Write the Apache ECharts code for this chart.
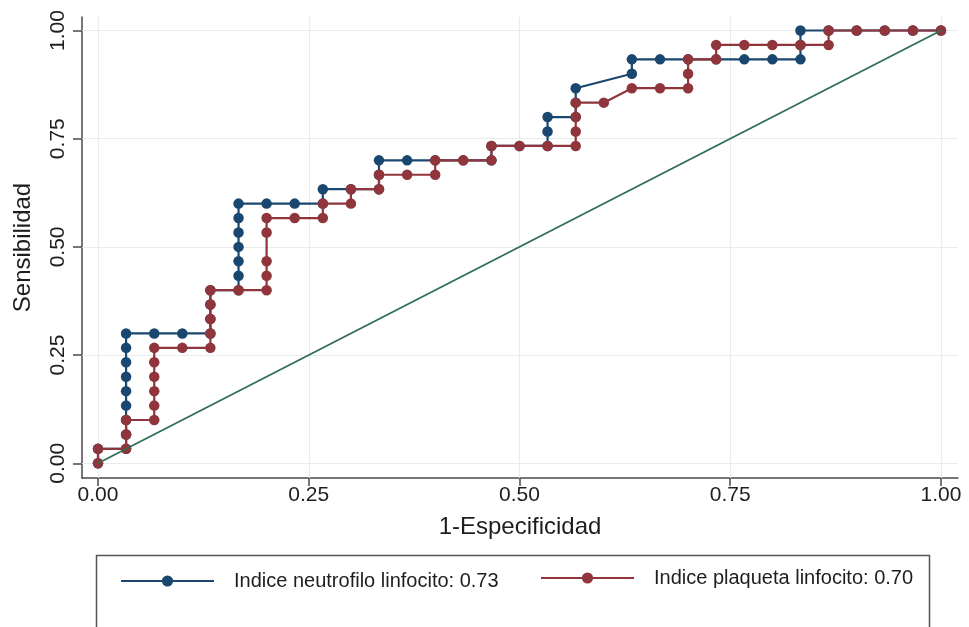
<!DOCTYPE html>
<html>
<head>
<meta charset="utf-8">
<title>Curvas ROC</title>
<script src="https://cdn.jsdelivr.net/npm/echarts@6/dist/echarts.min.js"></script>
<style>
  html, body { margin: 0; padding: 0; background: #ffffff; }
  #chart { width: 969px; height: 627px; }
</style>
</head>
<body>
<div id="chart"></div>
<script>
// Tick positions shared by both axes
const tickValues = [0, 0.25, 0.5, 0.75, 1];

// ROC curve: neutrophil-lymphocyte index (1-specificity, sensitivity)
const nlrFpr = [0, 0, 0.0333, 0.0333, 0.0333, 0.0333, 0.0333, 0.0333, 0.0333, 0.0333, 0.0333,
  0.0667, 0.1, 0.1333, 0.1333, 0.1333, 0.1333,
  0.1667, 0.1667, 0.1667, 0.1667, 0.1667, 0.1667, 0.1667,
  0.2, 0.2333, 0.2667, 0.2667, 0.3, 0.3333, 0.3333, 0.3333,
  0.3667, 0.4, 0.4333, 0.4667, 0.4667, 0.5, 0.5333, 0.5333, 0.5333,
  0.5667, 0.5667, 0.5667, 0.6333, 0.6333, 0.6667, 0.7, 0.7333, 0.7667, 0.8,
  0.8333, 0.8333, 0.8333, 0.8667, 0.9, 0.9333, 0.9667, 1];
const nlrTpr = [0, 0.0333, 0.0333, 0.0667, 0.1, 0.1333, 0.1667, 0.2, 0.2333, 0.2667, 0.3,
  0.3, 0.3, 0.3, 0.3333, 0.3667, 0.4,
  0.4, 0.4333, 0.4667, 0.5, 0.5333, 0.5667, 0.6,
  0.6, 0.6, 0.6, 0.6333, 0.6333, 0.6333, 0.6667, 0.7,
  0.7, 0.7, 0.7, 0.7, 0.7333, 0.7333, 0.7333, 0.7667, 0.8,
  0.8, 0.8333, 0.8667, 0.9, 0.9333, 0.9333, 0.9333, 0.9333, 0.9333, 0.9333,
  0.9333, 0.9667, 1, 1, 1, 1, 1, 1];

// ROC curve: platelet-lymphocyte index
const plrFpr = [0, 0, 0.0333, 0.0333, 0.0333,
  0.0667, 0.0667, 0.0667, 0.0667, 0.0667, 0.0667,
  0.1, 0.1333, 0.1333, 0.1333, 0.1333, 0.1333, 0.1667,
  0.2, 0.2, 0.2, 0.2, 0.2, 0.2333, 0.2667, 0.2667, 0.3, 0.3,
  0.3333, 0.3333, 0.3667, 0.4, 0.4, 0.4333, 0.4667, 0.4667, 0.5, 0.5333,
  0.5667, 0.5667, 0.5667, 0.5667, 0.6, 0.6333, 0.6667, 0.7, 0.7, 0.7,
  0.7333, 0.7333, 0.7667, 0.8, 0.8333, 0.8667, 0.8667, 0.9, 0.9333, 0.9667, 1];
const plrTpr = [0, 0.0333, 0.0333, 0.0667, 0.1,
  0.1, 0.1333, 0.1667, 0.2, 0.2333, 0.2667,
  0.2667, 0.2667, 0.3, 0.3333, 0.3667, 0.4, 0.4,
  0.4, 0.4333, 0.4667, 0.5333, 0.5667, 0.5667, 0.5667, 0.6, 0.6, 0.6333,
  0.6333, 0.6667, 0.6667, 0.6667, 0.7, 0.7, 0.7, 0.7333, 0.7333, 0.7333,
  0.7333, 0.7667, 0.8, 0.8333, 0.8333, 0.8667, 0.8667, 0.8667, 0.9, 0.9333,
  0.9333, 0.9667, 0.9667, 0.9667, 0.9667, 0.9667, 1, 1, 1, 1, 1];

// Chance (reference) diagonal
const refX = [0, 1];
const refY = [0, 1];

const seriesNames = ['Indice neutrofilo linfocito: 0.73', 'Indice plaqueta linfocito: 0.70'];
const colors = { nlr: '#1a476f', plr: '#90353b', ref: '#2f6e55', grid: '#e9ecec', axis: '#4a4a4a', text: '#1e1e1e' };

const pairs = (xs, ys) => xs.map((x, i) => [x, ys[i]]);
const fmt = v => v.toFixed(2);
const fontFamily = '"Liberation Sans", Arial, Helvetica, sans-serif';

const chart = echarts.init(document.getElementById('chart'), null, { renderer: 'canvas' });

const gridLines = [
  ...tickValues.map(v => ({ xAxis: v })),
  ...tickValues.map(v => ({ yAxis: v }))
];

const legendBase = {
  orient: 'horizontal',
  itemWidth: 93,
  itemHeight: 14,
  itemGap: 0,
  padding: 0,
  selectedMode: false,
  textStyle: { fontSize: 20, color: colors.text, fontFamily, padding: [0, 0, 0, 15] }
};

chart.setOption({
  animation: false,
  textStyle: { fontFamily },
  grid: { left: 82, right: 11, top: 17, bottom: 149, containLabel: false, outerBoundsMode: 'none' },
  xAxis: {
    type: 'value',
    min: -0.019,
    max: 1.0202,
    name: '1-Especificidad',
    nameLocation: 'middle',
    nameGap: 37,
    nameTextStyle: { fontSize: 24, color: colors.text },
    axisLine: { show: true, onZero: false, lineStyle: { color: colors.axis, width: 1.5 } },
    axisTick: { show: true, customValues: tickValues, length: 8, lineStyle: { color: colors.axis, width: 1.5 } },
    axisLabel: { customValues: tickValues, formatter: fmt, fontSize: 21, color: colors.text, margin: 7 },
    splitLine: { show: false }
  },
  yAxis: {
    type: 'value',
    min: -0.034,
    max: 1.0312,
    name: 'Sensibilidad',
    nameLocation: 'middle',
    nameGap: 47,
    nameRotate: 90,
    nameTextStyle: { fontSize: 24, color: colors.text },
    axisLine: { show: true, onZero: false, lineStyle: { color: colors.axis, width: 1.5 } },
    axisTick: { show: true, customValues: tickValues, length: 9, lineStyle: { color: colors.axis, width: 1.5 } },
    axisLabel: { customValues: tickValues, formatter: fmt, fontSize: 21, color: colors.text, rotate: 90, margin: 13 },
    splitLine: { show: false }
  },
  legend: [
    Object.assign({}, legendBase, { data: [seriesNames[0]], left: 120, top: 571 }),
    Object.assign({}, legendBase, { data: [seriesNames[1]], left: 540, top: 568 })
  ],
  graphic: [{
    type: 'rect',
    silent: true,
    shape: { x: 96.5, y: 555.5, width: 833, height: 120 },
    style: { fill: 'none', stroke: '#555', lineWidth: 1.5 }
  }],
  series: [
    {
      name: seriesNames[0],
      type: 'line',
      data: pairs(nlrFpr, nlrTpr),
      color: colors.nlr,
      symbol: 'circle',
      symbolSize: 10.5,
      showAllSymbol: true,
      lineStyle: { width: 2.2, color: colors.nlr },
      itemStyle: { color: colors.nlr },
      z: 2
    },
    {
      name: seriesNames[1],
      type: 'line',
      data: pairs(plrFpr, plrTpr),
      color: colors.plr,
      symbol: 'circle',
      symbolSize: 10.5,
      showAllSymbol: true,
      lineStyle: { width: 2.2, color: colors.plr },
      itemStyle: { color: colors.plr },
      z: 3
    },
    {
      name: 'ref',
      type: 'line',
      data: pairs(refX, refY),
      symbol: 'none',
      lineStyle: { width: 1.8, color: colors.ref },
      z: 4,
      silent: true,
      markLine: {
        silent: true,
        z: 1,
        symbol: 'none',
        label: { show: false },
        lineStyle: { color: colors.grid, width: 1.2, type: 'solid' },
        emphasis: { disabled: true },
        data: gridLines
      }
    }
  ]
});
</script>
</body>
</html>
